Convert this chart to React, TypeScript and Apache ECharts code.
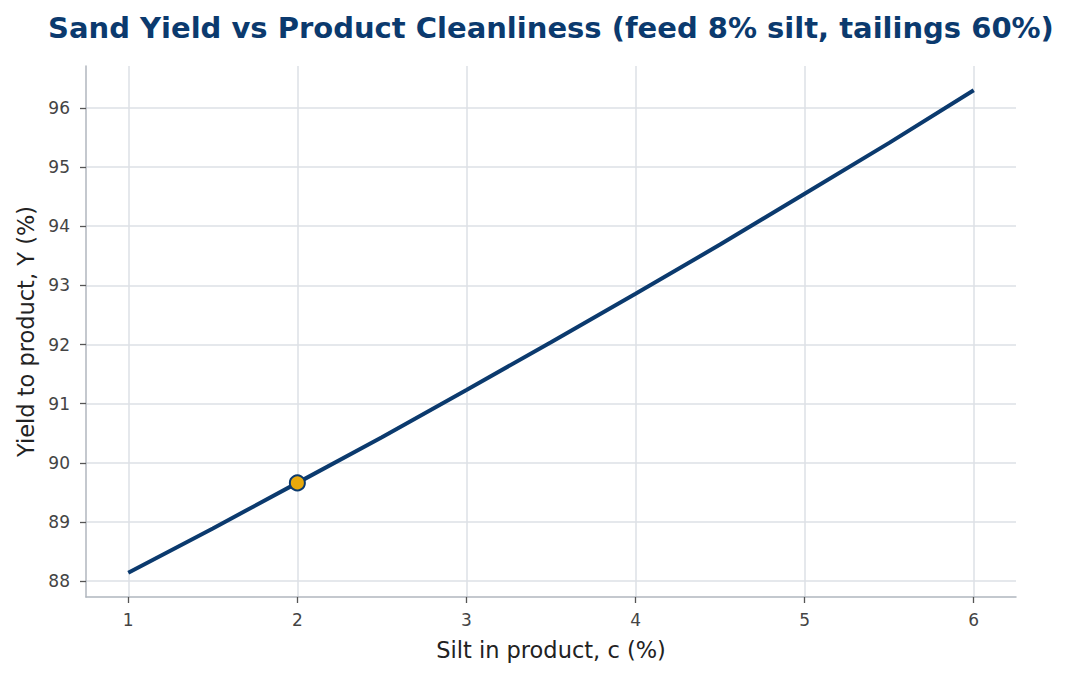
import * as echarts from 'echarts';
import { useEffect, useRef } from 'react';

// silt in product c (%) vs yield to product Y (%)
const siltPct = [1, 1.5, 2, 2.5, 3, 3.5, 4, 4.5, 5, 5.5, 6];
const yieldPct = [88.14, 88.89, 89.66, 90.43, 91.23, 92.04, 92.86, 93.69, 94.55, 95.41, 96.3];
const xTicks = [1, 2, 3, 4, 5, 6];
const yTicks = [88, 89, 90, 91, 92, 93, 94, 95, 96];
const highlight = [2, 89.66];

const navy = '#0b3a6e';
const font = '"DejaVu Sans", sans-serif';

export default function App() {
  const chartRef = useRef<HTMLDivElement>(null);

  useEffect(() => {
    if (!chartRef.current) return;
    const chart = echarts.init(chartRef.current, undefined, { renderer: 'svg' });

    const axisCommon = {
      axisLine: { show: true, lineStyle: { color: '#b0b6be', width: 1.5 } },
      axisTick: { show: true, length: 6, lineStyle: { color: '#555', width: 1.3 } },
      splitLine: {
        show: true,
        showMinLine: false,
        showMaxLine: false,
        lineStyle: { color: '#dde1e6', width: 1.5 },
      },
      nameTextStyle: { color: '#222', fontSize: 22.5, fontFamily: font },
    };
    const tickText = { color: '#444', fontSize: 17, fontFamily: font };

    chart.setOption({
      animation: false,
      textStyle: { fontFamily: font },
      title: {
        text: 'Sand Yield vs Product Cleanliness (feed 8% silt, tailings 60%)',
        left: 546,
        top: 8,
        textAlign: 'center',
        textStyle: { color: navy, fontSize: 29, fontWeight: 'bold', fontFamily: font },
      },
      grid: { left: 86, right: 55, top: 66, bottom: 80 },
      xAxis: {
        type: 'value',
        min: 0.75,
        max: 6.25,
        splitNumber: xTicks.length - 1,
        name: 'Silt in product, c (%)',
        nameLocation: 'middle',
        nameGap: 41,
        ...axisCommon,
        axisLabel: { ...tickText, margin: 14, showMinLabel: false, showMaxLabel: false },
      },
      yAxis: {
        type: 'value',
        min: 87.73,
        max: 96.71,
        splitNumber: yTicks.length - 1,
        name: 'Yield to product, Y (%)',
        nameLocation: 'middle',
        nameGap: 49,
        ...axisCommon,
        axisLabel: { ...tickText, margin: 16, showMinLabel: false, showMaxLabel: false },
      },
      series: [
        {
          type: 'line',
          data: siltPct.map((c, i) => [c, yieldPct[i]]),
          showSymbol: false,
          lineStyle: { color: navy, width: 4 },
          z: 2,
        },
        {
          type: 'scatter',
          data: [highlight],
          symbolSize: 15,
          itemStyle: { color: '#e8a90c', borderColor: navy, borderWidth: 2, opacity: 1 },
          z: 3,
        },
      ],
    });

    return () => chart.dispose();
  }, []);

  return (
    <div
      ref={chartRef}
      style={{ position: 'absolute', left: 0, top: 0, width: 1071, height: 677, background: '#fff' }}
    />
  );
}
